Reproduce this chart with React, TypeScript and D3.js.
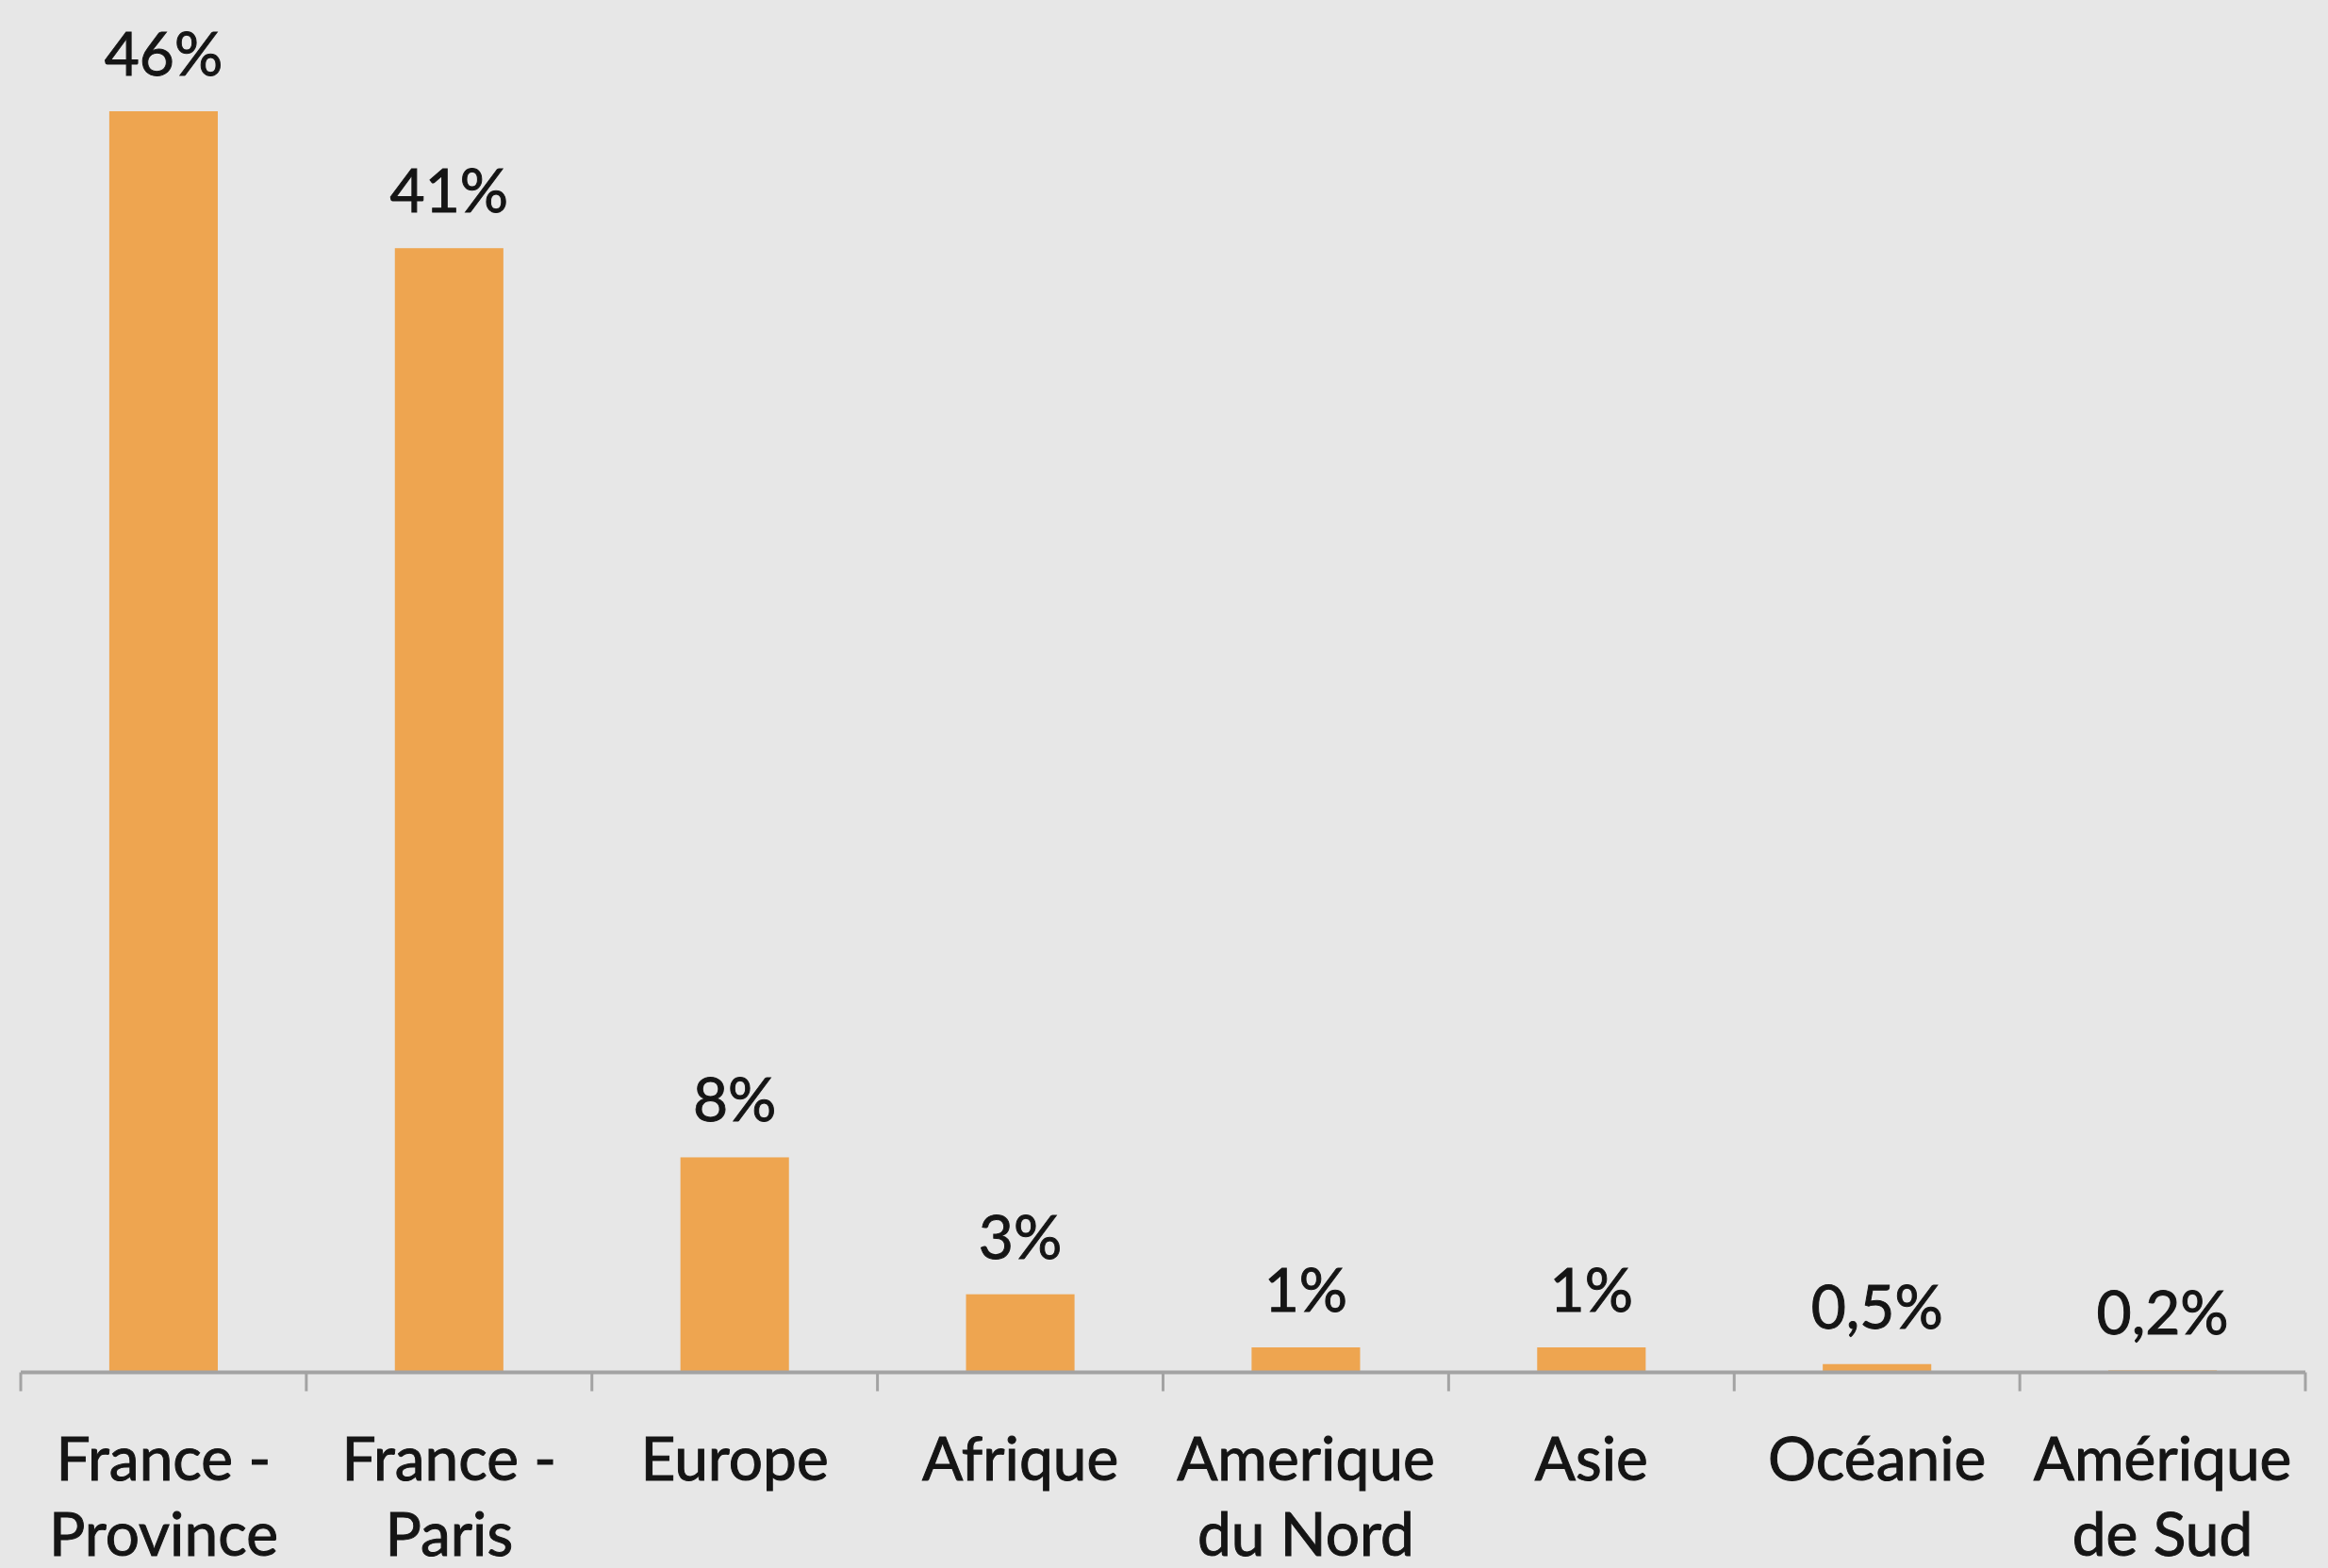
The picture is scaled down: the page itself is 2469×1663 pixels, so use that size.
import React, { useEffect } from "react";
import * as d3 from "d3";

const categories: string[][] = [
  ["France -", "Province"],
  ["France -", "Paris"],
  ["Europe"],
  ["Afrique"],
  ["Amerique", "du Nord"],
  ["Asie"],
  ["Océanie"],
  ["Amérique", "de Sud"],
];
const values: number[] = [46, 41, 7.8, 2.8, 0.86, 0.86, 0.25, 0.02];
const valueLabels: string[] = ["46%", "41%", "8%", "3%", "1%", "1%", "0,5%", "0,2%"];

const W = 2469;
const H = 1663;
const FONT = "Lato, 'Noto Sans', sans-serif";

export default function App() {
  useEffect(() => {
    document.body.style.margin = "0";
  }, []);

  const keys = categories.map((c) => c.join(" "));
  const x = d3
    .scaleBand<string>()
    .domain(keys)
    .range([22, 2445])
    .paddingInner(0.62)
    .paddingOuter(0.31);
  const step = x.step();
  const x0 = 22;
  const y = d3.scaleLinear().domain([0, 46]).range([1454, 118]);
  const axisY = 1455.5;
  const ticks = d3.range(keys.length + 1).map((i) => x0 + i * step);

  const textProps = {
    textAnchor: "middle" as const,
    fontFamily: FONT,
    fontSize: 64,
    fill: "#151515",
    stroke: "#151515",
    strokeWidth: 1,
  };

  return (
    <svg
      width={W}
      height={H}
      style={{ position: "absolute", left: 0, top: 0, display: "block" }}
    >
      <rect x={0} y={0} width={W} height={H} fill="#e7e7e7" />
      {values.map((v, i) => (
        <rect
          key={"b" + i}
          x={x(keys[i])!}
          y={y(v)}
          width={x.bandwidth()}
          height={Math.max(0, y(0) - y(v))}
          fill="#eea550"
        />
      ))}
      <line x1={ticks[0]} x2={ticks[ticks.length - 1]} y1={axisY} y2={axisY} stroke="#a3a3a3" strokeWidth={4} />
      {ticks.map((t, i) => (
        <line key={"t" + i} x1={t} x2={t} y1={axisY} y2={axisY + 20} stroke="#a3a3a3" strokeWidth={3} />
      ))}
      {values.map((v, i) => (
        <text key={"v" + i} x={x(keys[i])! + x.bandwidth() / 2} y={y(v) - 38} {...textProps}>
          {valueLabels[i]}
        </text>
      ))}
      {categories.map((lines, i) =>
        lines.map((ln, j) => (
          <text
            key={"c" + i + "-" + j}
            x={x(keys[i])! + x.bandwidth() / 2}
            y={1570 + j * 80}
            {...textProps}
          >
            {ln}
          </text>
        ))
      )}
    </svg>
  );
}
